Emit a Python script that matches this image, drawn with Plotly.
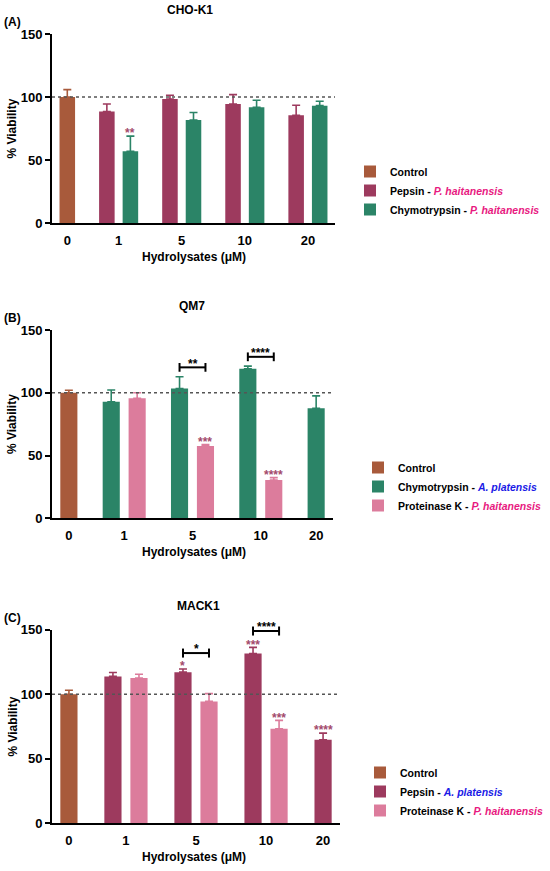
import plotly.graph_objects as go
from plotly.subplots import make_subplots

doses = ["0", "1", "5", "10", "20"]

# (A) CHO-K1
a_control = [100, None, None, None, None]
a_control_sd = [5.8, None, None, None, None]
a_pepsin = [None, 88.4, 98.4, 94.4, 85.4]
a_pepsin_sd = [None, 6.0, 3.0, 7.5, 8.0]
a_pepsin_sig = ["", "", "", "", ""]
a_chymo = [None, 56.9, 81.7, 91.8, 93.1]
a_chymo_sd = [None, 12.0, 6.0, 5.6, 3.5]
a_chymo_sig = ["", "**", "", "", ""]

# (B) QM7
b_control = [100, None, None, None, None]
b_control_sd = [2.0, None, None, None, None]
b_chymo = [None, 92.9, 103.5, 119.2, 87.6]
b_chymo_sd = [None, 9.3, 9.3, 2.1, 10.0]
b_chymo_sig = ["", "", "", "", ""]
b_prot = [None, 95.6, 57.6, 30.5, None]
b_prot_sd = [None, 4.5, 1.1, 1.9, None]
b_prot_sig = ["", "", "***", "****", ""]
b_bracket_doses = ["5", "10"]
b_bracket_y = [120.3, 128.7]
b_bracket_sig = ["**", "****"]

# (C) MACK1
c_control = [100, None, None, None, None]
c_control_sd = [3.0, None, None, None, None]
c_pepsin = [None, 113.8, 117.1, 131.6, 64.6]
c_pepsin_sd = [None, 3.0, 2.4, 4.7, 5.2]
c_pepsin_sig = ["", "", "*", "***", "****"]
c_prot = [None, 112.5, 94.4, 73.2, None]
c_prot_sd = [None, 3.0, 6.0, 6.5, None]
c_prot_sig = ["", "", "", "***", ""]
c_bracket_doses = ["5", "10"]
c_bracket_y = [131.9, 149.0]
c_bracket_sig = ["*", "****"]

YMAX = 150
FONT = "Arial, Liberation Sans, sans-serif"
C_CONTROL = "#a85a3b"
C_PEPSIN = "#9d3a5e"
C_CHYMO = "#2b8467"
C_PROT = "#dc7c9c"
C_STAR = "#a34a6c"
PINK_TXT = "#e8197f"
BLUE_TXT = "#1a1ae6"
BAR_W = 0.66   # bar width, in bar-slot units
PAD = 0.65


def sp(txt, color):
    return '<span style="color:%s"><i>%s</i></span>' % (color, txt)


panels = [
    dict(tag="(A)", title="CHO-K1", legend="legend",
         series=[("Control", a_control, a_control_sd, None, C_CONTROL),
                 ("Pepsin - " + sp("P. haitanensis", PINK_TXT), a_pepsin, a_pepsin_sd, a_pepsin_sig, C_PEPSIN),
                 ("Chymotrypsin - " + sp("P. haitanensis", PINK_TXT), a_chymo, a_chymo_sd, a_chymo_sig, C_CHYMO)],
         brackets=([], [], []), gap=1.68, xdom=[52, 335], ydom=[0.744, 0.961],
         top_px=34, bottom_px=223, title_x=190, leg_px=157, leg_x=350),
    dict(tag="(B)", title="QM7", legend="legend2",
         series=[("Control", b_control, b_control_sd, None, C_CONTROL),
                 ("Chymotrypsin - " + sp("A. platensis", BLUE_TXT), b_chymo, b_chymo_sd, b_chymo_sig, C_CHYMO),
                 ("Proteinase K - " + sp("P. haitanensis", PINK_TXT), b_prot, b_prot_sd, b_prot_sig, C_PROT)],
         brackets=(b_bracket_doses, b_bracket_y, b_bracket_sig), gap=1.635,
         xdom=[52, 333], ydom=[0.405, 0.621],
         top_px=330, bottom_px=518, title_x=192, leg_px=453, leg_x=358),
    dict(tag="(C)", title="MACK1", legend="legend3",
         series=[("Control", c_control, c_control_sd, None, C_CONTROL),
                 ("Pepsin - " + sp("A. platensis", BLUE_TXT), c_pepsin, c_pepsin_sd, c_pepsin_sig, C_PEPSIN),
                 ("Proteinase K - " + sp("P. haitanensis", PINK_TXT), c_prot, c_prot_sd, c_prot_sig, C_PROT)],
         brackets=(c_bracket_doses, c_bracket_y, c_bracket_sig), gap=1.69,
         xdom=[52, 340], ydom=[0.055, 0.277],
         top_px=630, bottom_px=823, title_x=198, leg_px=758, leg_x=360),
]

H = 871
W = 550
fig = make_subplots(rows=3, cols=1)
annotations = []
shapes = []
star_font = dict(family=FONT, size=12, color=C_STAR, weight="bold")
tfont = dict(family=FONT, size=12, color="black", weight="bold")
tick_font = dict(family=FONT, size=13, color="black", weight="bold")

for r, p in enumerate(panels, start=1):
    xa = "x" if r == 1 else "x%d" % r
    ya = "y" if r == 1 else "y%d" % r
    yd = ya + " domain"
    ser = p["series"]

    # GraphPad-style layout: bars of a dose side by side, fixed gap between doses
    pos = [[None] * len(doses) for _ in ser]
    centers = []
    cursor = 0.0
    for i in range(len(doses)):
        present = [k for k, s in enumerate(ser) if s[1][i] is not None]
        for j, k in enumerate(present):
            pos[k][i] = cursor + j
        centers.append(cursor + (len(present) - 1) / 2)
        cursor += len(present) - 1 + p["gap"]
    last = cursor - p["gap"]

    for k, (name, vals, sds, sig, color) in enumerate(ser):
        fig.add_trace(go.Bar(
            x=pos[k], y=vals, name=name, width=BAR_W,
            marker=dict(color=color, line=dict(width=0)),
            error_y=dict(type="data", symmetric=False, array=sds,
                         arrayminus=[0 if v is not None else None for v in vals],
                         color=color, thickness=1.6, width=4),
            legend=p["legend"], showlegend=True,
        ), row=r, col=1)
        if sig:
            for i, s in enumerate(sig):
                if s and vals[i] is not None:
                    annotations.append(dict(
                        x=pos[k][i], y=(vals[i] + sds[i] + 2.2) / YMAX,
                        xref=xa, yref=yd, text=s, showarrow=False, yanchor="middle",
                        font=star_font))

    # significance brackets between the paired bars
    bd, by, bs = p["brackets"]
    for dose, yv, s in zip(bd, by, bs):
        i = doses.index(dose)
        xs = [pos[k][i] for k in range(len(ser)) if pos[k][i] is not None]
        x0, x1 = min(xs), max(xs)
        ln = dict(color="black", width=2)
        shapes.append(dict(type="line", xref=xa, yref=yd, x0=x0, x1=x1,
                           y0=yv / YMAX, y1=yv / YMAX, line=ln))
        for xx in (x0, x1):
            shapes.append(dict(type="line", xref=xa, yref=yd, x0=xx, x1=xx,
                               y0=(yv - 3.5) / YMAX, y1=(yv + 3.5) / YMAX, line=ln))
        annotations.append(dict(x=(x0 + x1) / 2, y=(yv + 2.8) / YMAX, xref=xa, yref=yd,
                                text=s, showarrow=False, yanchor="middle",
                                font=dict(star_font, color="black")))

    # dotted 100% line
    shapes.append(dict(type="line", xref=xa + " domain", yref=ya, x0=0, x1=1, y0=100, y1=100,
                       line=dict(color="#555555", width=1.5, dash="dot")))

    fig.update_xaxes(range=[-PAD, last + PAD], domain=[p["xdom"][0] / W, p["xdom"][1] / W],
                     tickvals=centers, ticktext=doses,
                     showline=True, linecolor="black", linewidth=2, ticks="",
                     ticklabelstandoff=4,
                     showgrid=False, zeroline=False, automargin=False,
                     tickfont=tick_font, row=r, col=1)
    fig.update_yaxes(range=[0, YMAX], tickvals=[0, 50, 100, 150], domain=p["ydom"],
                     showline=True, linecolor="black", linewidth=2, ticks="outside",
                     ticklen=5, tickwidth=2, tickcolor="black", showgrid=False,
                     zeroline=False, automargin=False,
                     tickfont=tick_font, row=r, col=1)

    top, bot = p["top_px"], p["bottom_px"]
    annotations.append(dict(x=p["title_x"] / W, y=1 - (top - 24) / H, xref="paper", yref="paper",
                            text=p["title"], showarrow=False, xanchor="center",
                            yanchor="middle", font=tfont))
    annotations.append(dict(x=2 / W, y=1 - (top - 12) / H, xref="paper", yref="paper",
                            text=p["tag"], showarrow=False, xanchor="left",
                            yanchor="middle", font=tfont))
    annotations.append(dict(x=12 / W, y=1 - ((top + bot) / 2) / H, xref="paper", yref="paper",
                            text="% Viability", textangle=-90, showarrow=False,
                            xanchor="center", yanchor="middle", font=tfont))
    annotations.append(dict(x=194 / W, y=1 - (bot + 34) / H, xref="paper", yref="paper",
                            text="Hydrolysates (\u03bcM)", showarrow=False,
                            xanchor="center", yanchor="middle", font=tfont))

    fig.update_layout({p["legend"]: dict(
        x=p["leg_x"] / W, y=1 - p["leg_px"] / H, xanchor="left", yanchor="top",
        bgcolor="rgba(0,0,0,0)", borderwidth=0, tracegroupgap=0,
        font=dict(family=FONT, size=10.5, color="black", weight="bold"))})

fig.update_layout(
    width=W, height=H, template="none", barmode="overlay",
    margin=dict(l=0, r=0, t=0, b=0),
    paper_bgcolor="white", plot_bgcolor="white",
    annotations=annotations, shapes=shapes,
    font=dict(family=FONT, color="black"),
)

fig.write_html("out.html", config={"displayModeBar": False},
               post_script="document.body.style.margin='0';")
